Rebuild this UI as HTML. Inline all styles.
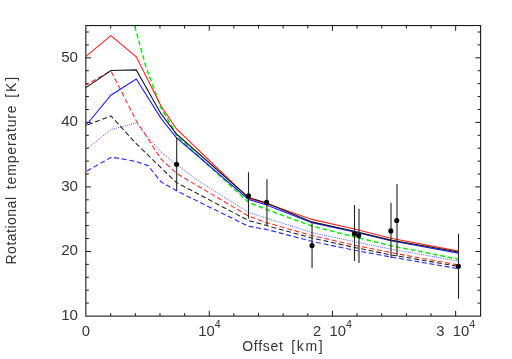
<!DOCTYPE html>
<html><head><meta charset="utf-8"><title>Rotational temperature</title>
<style>html,body{margin:0;padding:0;background:#fff;width:512px;height:359px;overflow:hidden}</style></head>
<body>
<svg width="512" height="359" viewBox="0 0 512 359" style="position:absolute;left:0;top:0">
<defs><clipPath id="c"><rect x="85.85" y="25.55" width="394.75" height="290.55"/></clipPath></defs>
<rect width="512" height="359" fill="#fff"/>
<rect x="85.85" y="25.55" width="394.75" height="290.55" fill="none" stroke="#1a1a1a" stroke-width="1.1"/>
<path d="M110.69 316.1 v-3.0 M110.69 25.55 v3.0 M135.33 316.1 v-3.0 M135.33 25.55 v3.0 M159.97 316.1 v-3.0 M159.97 25.55 v3.0 M184.61 316.1 v-3.0 M184.61 25.55 v3.0 M209.25 316.1 v-5.3 M209.25 25.55 v5.3 M233.89 316.1 v-3.0 M233.89 25.55 v3.0 M258.53 316.1 v-3.0 M258.53 25.55 v3.0 M283.17 316.1 v-3.0 M283.17 25.55 v3.0 M307.81 316.1 v-3.0 M307.81 25.55 v3.0 M332.45 316.1 v-5.3 M332.45 25.55 v5.3 M357.09 316.1 v-3.0 M357.09 25.55 v3.0 M381.73 316.1 v-3.0 M381.73 25.55 v3.0 M406.37 316.1 v-3.0 M406.37 25.55 v3.0 M431.01 316.1 v-3.0 M431.01 25.55 v3.0 M455.65 316.1 v-5.3 M455.65 25.55 v5.3 M85.85 303.09 h3.0 M480.6 303.09 h-3.0 M85.85 290.18 h3.0 M480.6 290.18 h-3.0 M85.85 277.28 h3.0 M480.6 277.28 h-3.0 M85.85 264.37 h3.0 M480.6 264.37 h-3.0 M85.85 251.46 h5.2 M480.6 251.46 h-5.2 M85.85 238.55 h3.0 M480.6 238.55 h-3.0 M85.85 225.64 h3.0 M480.6 225.64 h-3.0 M85.85 212.74 h3.0 M480.6 212.74 h-3.0 M85.85 199.83 h3.0 M480.6 199.83 h-3.0 M85.85 186.92 h5.2 M480.6 186.92 h-5.2 M85.85 174.01 h3.0 M480.6 174.01 h-3.0 M85.85 161.10 h3.0 M480.6 161.10 h-3.0 M85.85 148.20 h3.0 M480.6 148.20 h-3.0 M85.85 135.29 h3.0 M480.6 135.29 h-3.0 M85.85 122.38 h5.2 M480.6 122.38 h-5.2 M85.85 109.47 h3.0 M480.6 109.47 h-3.0 M85.85 96.56 h3.0 M480.6 96.56 h-3.0 M85.85 83.66 h3.0 M480.6 83.66 h-3.0 M85.85 70.75 h3.0 M480.6 70.75 h-3.0 M85.85 57.84 h5.2 M480.6 57.84 h-5.2 M85.85 44.93 h3.0 M480.6 44.93 h-3.0 M85.85 32.02 h3.0 M480.6 32.02 h-3.0" stroke="#1a1a1a" stroke-width="1" fill="none"/>
<g clip-path="url(#c)" fill="none" stroke-linejoin="miter">
<path d="M85.90 149.60 L110.90 129.60 L136.25 123.00 L161.00 152.20 L176.50 164.60 L198.00 180.50 L248.50 212.40 L266.60 218.10 L311.90 232.60 L354.40 241.70 L390.90 249.10 L458.40 261.00" stroke="#2828ff" stroke-width="0.8" stroke-dasharray="1 1.2"/>
<path d="M85.90 171.50 L111.50 157.10 L136.25 161.50 L148.00 165.60 L161.00 181.80 L176.50 190.80 L248.50 226.30 L266.60 229.40 L311.90 241.40 L354.40 250.20 L390.90 257.00 L458.40 268.70" stroke="#3030ff" stroke-width="1.15" stroke-dasharray="5 2.7" stroke-dashoffset="-1.2"/>
<path d="M85.90 125.50 L110.90 115.90 L136.25 143.70 L161.00 167.70 L176.50 182.60 L248.50 220.50 L266.60 225.60 L311.90 238.00 L354.40 247.40 L390.90 254.90 L458.40 266.30" stroke="#222" stroke-width="1.05" stroke-dasharray="5 2.7" stroke-dashoffset="-2.15"/>
<path d="M85.90 85.00 L110.90 70.90 L136.25 120.80 L161.00 159.00 L176.50 173.40 L248.50 216.00 L266.60 222.75 L311.90 235.50 L354.40 245.20 L390.90 252.60 L458.40 265.00" stroke="#ff2828" stroke-width="1.05" stroke-dasharray="5 2.7" stroke-dashoffset="1.5"/>
<path d="M129.60 7.00 L134.60 25.50 L145.50 65.50 L161.00 108.00 L172.75 127.75 L176.50 135.50 L248.50 202.30 L266.60 209.50 L311.90 226.00 L354.40 236.90 L390.90 245.70 L458.40 259.20" stroke="#00ee00" stroke-width="1.45" stroke-dasharray="4.77 2.78" stroke-dashoffset="2.8"/>
<path d="M85.90 125.50 L110.90 95.20 L136.25 79.00 L161.00 118.40 L176.50 137.75 L248.50 199.40 L266.60 204.90 L311.90 222.60 L354.40 231.90 L390.90 240.80 L458.40 253.10" stroke="#2020ff" stroke-width="1.1"/>
<path d="M85.90 56.30 L110.90 35.60 L136.25 56.75 L161.00 106.00 L176.50 129.00 L248.50 198.20 L266.60 203.60 L311.90 219.40 L354.40 229.00 L390.90 238.20 L458.40 251.10" stroke="#ff2020" stroke-width="1.1"/>
<path d="M85.90 87.60 L110.90 70.50 L136.25 69.90 L161.00 113.70 L176.50 134.00 L248.50 197.50 L266.60 202.90 L311.90 221.90 L354.40 231.25 L390.90 240.10 L458.40 252.00" stroke="#1a1a1a" stroke-width="1.1"/>
</g>
<path d="M176.7 137.5 V190.8 M248.5 172.2 V218.6 M266.95 179.3 V225.5 M312.05 223.2 V268.2 M354.5 205 V261 M359.0 208.7 V263 M391.0 202.8 V258.3 M397.0 184 V256.2 M458.5 233.8 V298.8" stroke="#222" stroke-width="1.1" fill="none"/>
<circle cx="176.6" cy="164.3" r="2.55" fill="#000"/>
<circle cx="248.5" cy="195.7" r="2.55" fill="#000"/>
<circle cx="266.6" cy="202.2" r="2.55" fill="#000"/>
<circle cx="312.0" cy="245.6" r="2.55" fill="#000"/>
<circle cx="354.4" cy="233.8" r="2.55" fill="#000"/>
<circle cx="358.7" cy="235.6" r="2.55" fill="#000"/>
<circle cx="390.85" cy="230.9" r="2.55" fill="#000"/>
<circle cx="396.75" cy="220.5" r="2.55" fill="#000"/>
<circle cx="458.4" cy="266.2" r="2.55" fill="#000"/>
<g style="font-family:'Liberation Sans',sans-serif;fill:#333" font-size="14" opacity="0.99">
<text transform="translate(78,320.00) scale(1.08,1)" text-anchor="end">10</text>
<text transform="translate(78,255.46) scale(1.08,1)" text-anchor="end">20</text>
<text transform="translate(78,190.92) scale(1.08,1)" text-anchor="end">30</text>
<text transform="translate(78,126.38) scale(1.08,1)" text-anchor="end">40</text>
<text transform="translate(78,61.84) scale(1.08,1)" text-anchor="end">50</text>
<text transform="translate(85.8,335.8) scale(1.06,1)" text-anchor="middle">0</text>
<text transform="translate(198.2,335.8) scale(1.06,1)">10<tspan dy="-7.4" font-size="10">4</tspan></text>
<text transform="translate(313.0,335.8) scale(1.06,1)">2</text><text transform="translate(329.6,335.8) scale(1.06,1)">10<tspan dy="-7.4" font-size="10">4</tspan></text>
<text transform="translate(436.2,335.8) scale(1.06,1)">3</text><text transform="translate(452.8,335.8) scale(1.06,1)">10<tspan dy="-7.4" font-size="10">4</tspan></text>
<text x="242.3" y="351.1" textLength="40.5" lengthAdjust="spacing">Offset</text>
<text x="291.2" y="351.1" textLength="31.5" lengthAdjust="spacing">[km]</text>
<g transform="translate(16,0) rotate(-90)">
<text x="-264.5" y="0" textLength="67.5" lengthAdjust="spacing">Rotational</text>
<text x="-189.2" y="0" textLength="83.8" lengthAdjust="spacing">temperature</text>
<text x="-97.8" y="0" textLength="21" lengthAdjust="spacing">[K]</text>
</g></g>
</svg>
</body></html>
